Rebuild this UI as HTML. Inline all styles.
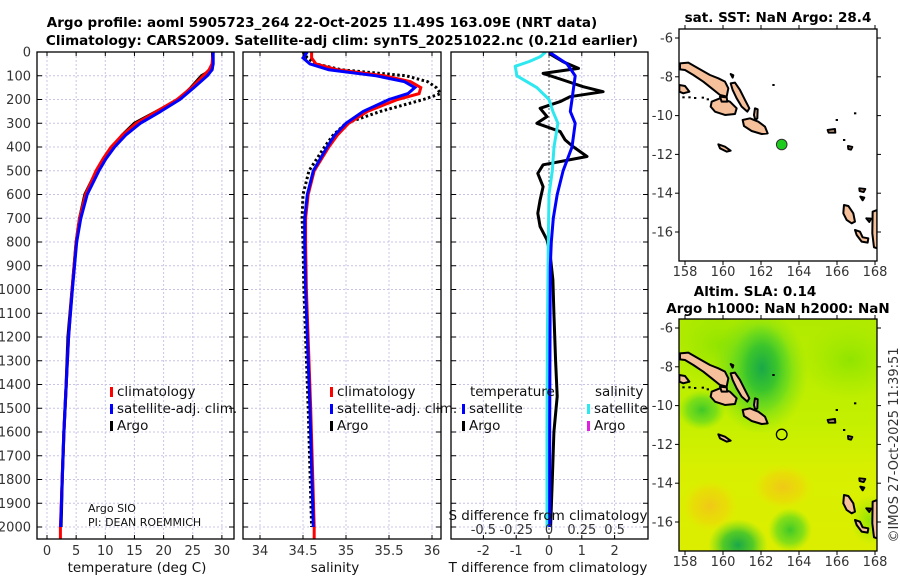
<!DOCTYPE html>
<html><head><meta charset="utf-8">
<style>
html,body{margin:0;padding:0;background:#fff;}
svg{display:block;font-family:"DejaVu Sans","Liberation Sans",sans-serif;}
.tk{font-size:13px;fill:#333;}
.ttl{font-size:13.5px;font-weight:bold;fill:#000;}
.lg{font-size:13.5px;fill:#111;}
</style></head>
<body>
<svg id="fig" width="900" height="580" viewBox="0 0 900 580">
<defs>
<radialGradient id="gDark"><stop offset="0" stop-color="#1aa848"/><stop offset="0.5" stop-color="#30c030" stop-opacity="0.8"/><stop offset="1" stop-color="#60d820" stop-opacity="0"/></radialGradient>
<radialGradient id="gGreen"><stop offset="0" stop-color="#40c828"/><stop offset="0.6" stop-color="#60d820" stop-opacity="0.7"/><stop offset="1" stop-color="#80e010" stop-opacity="0"/></radialGradient>
<radialGradient id="gLime"><stop offset="0" stop-color="#90e400"/><stop offset="1" stop-color="#a0e800" stop-opacity="0"/></radialGradient>
<radialGradient id="gOrange"><stop offset="0" stop-color="#f0c818"/><stop offset="0.6" stop-color="#ecd808" stop-opacity="0.7"/><stop offset="1" stop-color="#e0ee00" stop-opacity="0"/></radialGradient>
<linearGradient id="gBase" x1="0" y1="0" x2="0" y2="1"><stop offset="0" stop-color="#b0ea00"/><stop offset="0.45" stop-color="#c4f000"/><stop offset="0.65" stop-color="#d8f000"/><stop offset="1" stop-color="#dcee00"/></linearGradient>
<clipPath id="clipMap1"><rect x="679" y="29" width="198" height="232"/></clipPath>
<clipPath id="clipMap2"><rect x="679" y="319" width="198" height="232"/></clipPath>
<clipPath id="clipP1"><rect x="37" y="52" width="197" height="487"/></clipPath>
<clipPath id="clipP2"><rect x="243" y="52" width="198" height="487"/></clipPath>
<clipPath id="clipP3"><rect x="451" y="52" width="197" height="487"/></clipPath>
</defs>
<text class="ttl" x="322" y="27" text-anchor="middle">Argo profile: aoml 5905723_264 22-Oct-2025 11.49S 163.09E (NRT data)</text>
<text class="ttl" x="342" y="45" text-anchor="middle">Climatology: CARS2009. Satellite-adj clim: synTS_20251022.nc (0.21d earlier)</text>
<g id="layer"></g>
</svg>
<script>
// ---------- DATA ----------
const depthTicks = [0,100,200,300,400,500,600,700,800,900,1000,1100,1200,1300,1400,1500,1600,1700,1800,1900,2000];
const tempTicks = [0,5,10,15,20,25,30];
const salTicks = [34,34.5,35,35.5,36];
const salTickLabels = ["34","34.5","35","35.5","36"];
const diffTicks = [-2,-1,0,1,2];
const sDiffTicks = [-0.5,-0.25,0,0.25,0.5];
const sDiffTickLabels = ["-0.5","-0.25","0","0.25","0.5"];

const depthT = [0,50,75,100,150,200,250,300,350,400,450,500,600,700,800,1000,1200,1400,1600,1800,2000];
const argoT = [28.4,28.4,28.3,26.5,24.7,22.6,18.8,15.0,12.9,11.3,9.8,8.5,6.5,5.6,5.0,4.3,3.6,3.3,2.9,2.6,2.4];
const climT = [28.5,28.3,27.8,26.8,24.8,22.3,18.8,15.3,12.9,11.0,9.6,8.4,6.6,5.6,5.0,4.3,3.7,3.3,2.9,2.6,2.3];
const satT  = [28.5,28.5,28.3,27.5,25.2,22.8,19.5,16.0,13.5,11.6,10.1,8.9,6.9,5.8,5.1,4.35,3.7,3.3,2.9,2.6,2.35];

const depthS = [0,25,50,75,100,125,150,175,200,250,300,350,400,500,600,700,800,1000,1500,2000];
const argoS = [34.5,34.55,34.65,34.95,35.7,35.95,36.05,36.1,35.9,35.4,35.0,34.85,34.75,34.57,34.5,34.49,34.5,34.51,34.56,34.6];
const climS = [34.6,34.6,34.65,34.9,35.45,35.75,35.87,35.85,35.6,35.25,35.03,34.9,34.8,34.63,34.56,34.53,34.53,34.54,34.59,34.63];
const satS  = [34.55,34.5,34.58,34.8,35.35,35.68,35.8,35.72,35.5,35.2,35.0,34.87,34.78,34.62,34.55,34.52,34.52,34.53,34.58,34.62];

const depthSatTd = [0,50,100,150,200,250,300,400,500,600,700,800,900,1200,1600,2000];
const satTd = [0,0.55,0.8,0.75,0.7,0.65,0.8,0.7,0.43,0.25,0.13,0.07,0.04,0.03,0.02,0.02];
const depthSatSd = [0,20,40,60,100,150,200,250,300,400,500,600,800,1200,1600,2000];
const satSd = [-0.025,-0.068,-0.15,-0.258,-0.245,-0.093,0,0.03,0.068,0.038,0.025,0,-0.005,-0.012,-0.015,-0.015];
const depthArgoTd = [6,41,69,90,118,146,167,188,209,237,272,300,335,370,398,440,475,511,567,623,679,735,791,847,960,1100,1300,1450,1600,1800,2000];
const argoTd = [0,0.43,0.9,-0.18,0.43,1.04,1.65,0.64,0.34,-0.27,-0.06,-0.37,0.34,0.49,0.73,1.16,-0.18,-0.34,-0.18,-0.27,-0.34,-0.27,-0.06,0.03,0.12,0.15,0.2,0.25,0.15,0.1,0.05];

const latTicks = [-6,-8,-10,-12,-14,-16];
const lonTicks = [158,160,162,164,166,168];
const argoLon = 163.09, argoLat = -11.49;

// ---------- SCALES ----------
const yD = d => 52 + d*0.2375;
const xT = t => 47 + t*5.83;
const xS = s => 260 + (s-34)*86;
const xDiff = v => 549 + v*32.8;
const xSd = v => xDiff(v*4);
const xLon = lon => 685 + (lon-158)*19;
const yLat1 = lat => 38 + (-6-lat)*19.4;
const yLat2 = lat => 328 + (-6-lat)*19.4;

const NS="http://www.w3.org/2000/svg";
const L=document.getElementById('layer');
function mk(tag,attrs,parent){const e=document.createElementNS(NS,tag);for(const k in attrs)e.setAttribute(k,attrs[k]);(parent||L).appendChild(e);return e;}
function txt(s,attrs,parent){const e=mk('text',attrs,parent);e.textContent=s;return e;}
function pathFrom(xs,ds,fx){return xs.map((v,i)=>(i?'L':'M')+fx(v).toFixed(1)+','+yD(ds[i]).toFixed(1)).join('');}

const panels=[{x0:37,x1:234,ticks:tempTicks,fx:xT,name:'temperature-panel'},{x0:243,x1:441,ticks:salTicks,fx:xS,name:'salinity-panel'},{x0:451,x1:648,ticks:diffTicks,fx:xDiff,name:'difference-panel'}];
panels.forEach(p=>{
  const g=mk('g',{});
  
  
  p.g=g;
  depthTicks.forEach(d=>{const ln=mk('line',{x1:p.x0,x2:p.x1,y1:yD(d),y2:yD(d),stroke:'#c8c4e8','stroke-width':1,'stroke-dasharray':'2,2'},g);
    
    });
  p.ticks.forEach(t=>{const x=p.fx(t);const ln=mk('line',{x1:x,x2:x,y1:52,y2:539,stroke:(p.name==='difference-panel'&&t===0)?'#556':'#c8c4e8','stroke-width':1,'stroke-dasharray':'2,2'},g);
    
    });
});

const g1=mk('g',{'clip-path':'url(#clipP1)'},panels[0].g);
let e;
e=mk('path',{d:pathFrom(argoT,depthT,xT),fill:'none',stroke:'#000','stroke-width':3.2,'stroke-linejoin':'round'},g1);


e=mk('path',{d:pathFrom(climT,depthT,xT)+'L'+xT(climT[climT.length-1])+','+yD(2050),fill:'none',stroke:'#f00','stroke-width':3,'stroke-linejoin':'round'},g1);


e=mk('path',{d:pathFrom(satT,depthT,xT),fill:'none',stroke:'#00f','stroke-width':3,'stroke-linejoin':'round'},g1);



const g2=mk('g',{'clip-path':'url(#clipP2)'},panels[1].g);
e=mk('path',{d:pathFrom(argoS,depthS,xS),fill:'none',stroke:'#000','stroke-width':3,'stroke-dasharray':'2.5,2.5'},g2);


e=mk('path',{d:pathFrom(climS,depthS,xS)+'L'+xS(climS[climS.length-1])+','+yD(2050),fill:'none',stroke:'#f00','stroke-width':3},g2);


e=mk('path',{d:pathFrom(satS,depthS,xS),fill:'none',stroke:'#00f','stroke-width':3},g2);



const g3=mk('g',{'clip-path':'url(#clipP3)'},panels[2].g);
e=mk('path',{d:pathFrom(argoTd,depthArgoTd,xDiff),fill:'none',stroke:'#000','stroke-width':3,'stroke-linejoin':'round'},g3);


e=mk('path',{d:pathFrom(satSd,depthSatSd,xSd),fill:'none',stroke:'#2ee8f0','stroke-width':3,'stroke-linejoin':'round'},g3);


e=mk('path',{d:pathFrom(satTd,depthSatTd,xDiff),fill:'none',stroke:'#00f','stroke-width':3,'stroke-linejoin':'round'},g3);



panels.forEach(p=>{
  const g=p.g;
  depthTicks.forEach(d=>{mk('line',{x1:p.x0,x2:p.x0+5,y1:yD(d),y2:yD(d),stroke:'#000'},g);mk('line',{x1:p.x1-5,x2:p.x1,y1:yD(d),y2:yD(d),stroke:'#000'},g);});
  p.ticks.forEach(t=>{const x=p.fx(t);mk('line',{x1:x,x2:x,y1:539,y2:535,stroke:'#000'},g);mk('line',{x1:x,x2:x,y1:52,y2:56,stroke:'#000'},g);});
  const f=mk('rect',{x:p.x0,y:52,width:p.x1-p.x0,height:487,fill:'none',stroke:'#000','stroke-width':1.3},g);
  
  
});
depthTicks.forEach(d=>{const t=txt(String(d),{class:'tk',x:31,y:yD(d)+4.5,'text-anchor':'end'});
  
  });
tempTicks.forEach(v=>{const t=txt(String(v),{class:'tk',x:xT(v),y:555,'text-anchor':'middle'});
  
  });
salTicks.forEach((v,i)=>{const t=txt(salTickLabels[i],{class:'tk',x:xS(v),y:555,'text-anchor':'middle'});
  
  });
diffTicks.forEach(v=>{const t=txt(String(v),{class:'tk',x:xDiff(v),y:555,'text-anchor':'middle'});
  
  });
sDiffTicks.forEach((v,i)=>{const t=txt(sDiffTickLabels[i],{class:'tk',x:xSd(v),y:534,'text-anchor':'middle'});
  
  });

[['temperature (deg C)',137,'x-axis-title-temperature'],['salinity',335,'x-axis-title-salinity'],['T difference from climatology',548,'x-axis-title-t-difference']].forEach(a=>{
  const t=txt(a[0],{class:'lg',x:a[1],y:572,'text-anchor':'middle'});
  
  });
e=txt('S difference from climatology',{class:'lg',x:548,y:520,'text-anchor':'middle'});



function legEntry(x,y,color,label,name){
  const g=mk('g',{});
  
  
  mk('rect',{x:x,y:y-9,width:3,height:10,fill:color},g);
  txt(label,{class:'lg',x:x+7,y:y,'text-anchor':'start'},g);
}
legEntry(110,396,'#f00','climatology','legend-entry-climatology');
legEntry(110,413,'#00f','satellite-adj. clim.','legend-entry-satellite-adj');
legEntry(110,430,'#000','Argo','legend-entry-argo');
legEntry(330,396,'#f00','climatology','legend-entry-climatology-sal');
legEntry(330,413,'#00f','satellite-adj. clim.','legend-entry-satellite-adj-sal');
legEntry(330,430,'#000','Argo','legend-entry-argo-sal');
e=txt('temperature',{class:'lg',x:470,y:396});


e=txt('salinity',{class:'lg',x:595,y:396});


legEntry(462,413,'#00f','satellite','legend-entry-t-satellite');
legEntry(462,430,'#000','Argo','legend-entry-t-argo');
legEntry(587,413,'#2ee8f0','satellite','legend-entry-s-satellite');
legEntry(587,430,'#e020e0','Argo','legend-entry-s-argo');
e=txt('Argo SIO',{x:88,y:512,'font-size':'11px',fill:'#111'});


e=txt('PI: DEAN ROEMMICH',{x:88,y:526,'font-size':'11px',fill:'#111'});



// ---------- MAPS ----------
const islands=[
 [[120,190],[145,188],[175,205],[210,225],[235,235],[255,245],[265,265],[260,290],[240,285],[215,265],[190,245],[160,225],[135,210],[120,208]],
 [[215,305],[240,295],[270,305],[290,325],[285,342],[255,345],[225,335],[212,320]],
 [[272,250],[285,248],[300,270],[315,300],[328,325],[322,335],[305,320],[290,295],[278,270]],
 [[308,360],[330,355],[355,365],[375,380],[383,400],[365,402],[335,393],[312,378]],
 [[235,433],[255,440],[272,452],[260,455],[240,445]],
 [[118,255],[135,258],[148,275],[130,280],[118,275]],
 [[240,290],[260,292],[262,305],[245,305]],
 [[345,325],[353,328],[352,355],[346,360],[342,345]],
 [[612,615],[625,618],[640,640],[645,665],[635,670],[620,660],[610,640]],
 [[645,690],[660,695],[668,712],[685,715],[683,728],[665,725],[650,705]],
 [[698,635],[712,630],[712,745],[702,742],[697,700]],
 [[563,390],[585,387],[586,398],[566,398]],
 [[624,438],[637,441],[633,449],[625,447]],
 [[658,565],[676,567],[671,576],[659,573]],
 [[661,590],[673,593],[668,601]],
 [[679,655],[693,656],[688,666]],
 [[272,222],[280,226],[278,233]]
];
const dots=[[130,292],[148,292],[165,294],[188,293],[203,298],[400,255],[590,360],[612,420],[645,340]];
function drawMap(offY,name,bgFn,clip){
  const g=mk('g',{'clip-path':clip});
  
  
  bgFn(g);
  const ig=mk('g',{transform:'translate(640,'+offY+') scale(0.3333)'},g);
  islands.forEach(pl=>{const p=mk('polygon',{points:pl.map(q=>q.join(',')).join(' '),fill:'#f5c09a',stroke:'#000','stroke-width':6,'stroke-linejoin':'round'},ig);
    
    });
  dots.forEach(d=>mk('rect',{x:d[0]-3,y:d[1]-3,width:7,height:6,fill:'#000'},ig));
  return g;
}
drawMap(0,'sst-map',g=>{mk('rect',{x:679,y:29,width:198,height:232,fill:'#fff'},g);},'url(#clipMap1)');
e=mk('circle',{cx:xLon(argoLon),cy:yLat1(argoLat),r:5.3,fill:'#1ecc1e',stroke:'#333','stroke-width':1});


drawMap(290,'sla-map',g=>{
  mk('rect',{x:679,y:319,width:198,height:232,fill:'url(#gBase)'},g);
  mk('ellipse',{cx:720,cy:345,rx:50,ry:40,fill:'url(#gLime)'},g);
  mk('ellipse',{cx:850,cy:360,rx:50,ry:40,fill:'url(#gLime)'},g);
  mk('ellipse',{cx:760,cy:372,rx:48,ry:62,fill:'url(#gGreen)'},g);
  mk('ellipse',{cx:762,cy:368,rx:30,ry:45,fill:'url(#gDark)'},g);
  mk('ellipse',{cx:702,cy:410,rx:24,ry:20,fill:'url(#gGreen)'},g);
  mk('ellipse',{cx:710,cy:506,rx:30,ry:28,fill:'url(#gOrange)'},g);
  mk('ellipse',{cx:783,cy:487,rx:32,ry:24,fill:'url(#gOrange)'},g);
  mk('ellipse',{cx:738,cy:545,rx:30,ry:26,fill:'url(#gDark)'},g);
  mk('ellipse',{cx:790,cy:530,rx:22,ry:22,fill:'url(#gGreen)'},g);
  mk('ellipse',{cx:870,cy:520,rx:20,ry:25,fill:'url(#gLime)'},g);
},'url(#clipMap2)');
e=mk('circle',{cx:xLon(argoLon),cy:yLat2(argoLat),r:5.3,fill:'none',stroke:'#000','stroke-width':1.3});



[[29,yLat1,276,'sst-map'],[319,yLat2,566,'sla-map']].forEach(m=>{
  const top=m[0];
  const f=mk('rect',{x:679,y:top,width:198,height:232,fill:'none',stroke:'#000','stroke-width':1.3});
  
  
  latTicks.forEach(v=>{const y=m[1](v);mk('line',{x1:679,x2:675,y1:y,y2:y,stroke:'#000'});mk('line',{x1:877,x2:881,y1:y,y2:y,stroke:'#000'});
    const t=txt(String(v),{class:'tk',x:673,y:y+4.5,'text-anchor':'end'});
    
    });
  lonTicks.forEach(v=>{const x=xLon(v);mk('line',{x1:x,x2:x,y1:top+232,y2:top+236,stroke:'#000'});mk('line',{x1:x,x2:x,y1:top,y2:top-4,stroke:'#000'});
    const t=txt(String(v),{class:'tk',x:x,y:m[2],'text-anchor':'middle'});
    
    });
});
e=txt('sat. SST: NaN Argo: 28.4',{class:'ttl',x:778,y:22,'text-anchor':'middle'});


e=txt('Altim. SLA: 0.14',{class:'ttl',x:755,y:296,'text-anchor':'middle'});


e=txt('Argo h1000: NaN h2000: NaN',{class:'ttl',x:778,y:313,'text-anchor':'middle'});


e=txt('©IMOS 27-Oct-2025 11:39:51',{class:'tk',x:0,y:0,'text-anchor':'middle',transform:'translate(898,445) rotate(-90)'});


</script>
</body></html>
